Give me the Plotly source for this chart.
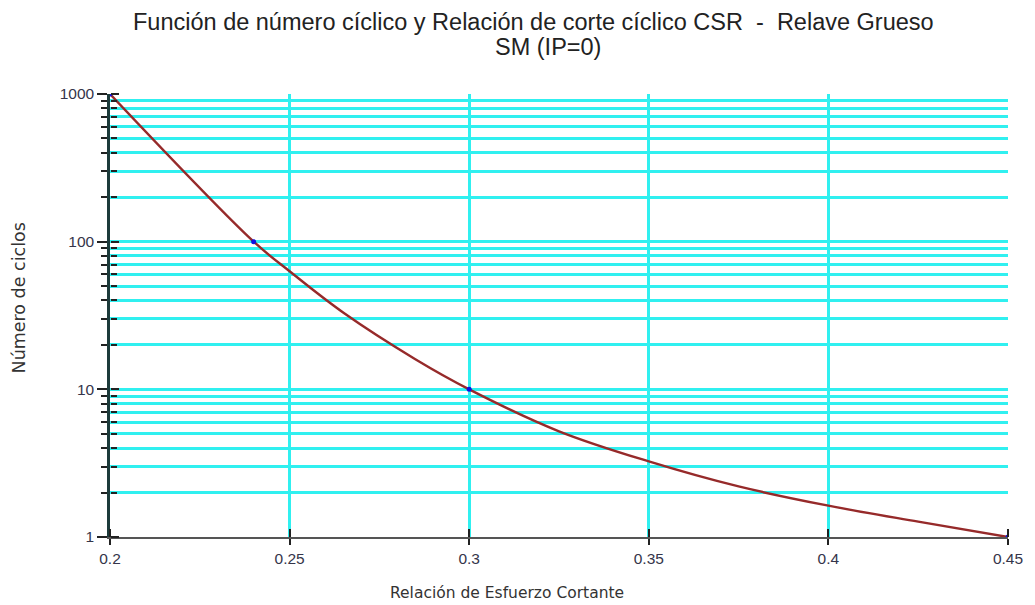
import plotly.graph_objects as go

# Cyclic stress ratio (CSR) vs number of cycles
csr = [0.2, 0.24, 0.25, 0.265, 0.285, 0.3, 0.325, 0.35, 0.375, 0.4, 0.425, 0.45]
ciclos = [1000, 100, 63, 33, 16, 10, 5.2, 3.25, 2.2, 1.63, 1.27, 1.0]

# Measured points shown as markers
csr_pts = [0.2, 0.24, 0.3, 0.45]
ciclos_pts = [1000, 100, 10, 1]

x_ticks = [0.2, 0.25, 0.3, 0.35, 0.4, 0.45]
x_tick_text = ["0.2", "0.25", "0.3", "0.35", "0.4", "0.45"]
y_ticks = [1, 10, 100, 1000]
y_tick_text = ["1", "10", "100", "1000"]

title_1 = "Función de número cíclico y Relación de corte cíclico CSR  -  Relave Grueso"
title_2 = "SM (IP=0)"
x_title = "Relación de Esfuerzo Cortante"
y_title = "Número de ciclos"

GRID = "#30f0f0"
FONT = "Liberation Sans, Arial, sans-serif"
TICK_FONT = dict(size=15.5, color="#35354a", family=FONT)
X_LABEL_FONT = dict(size=15.5, color="#333333", family="DejaVu Sans, sans-serif")
Y_LABEL_FONT = dict(size=17.5, color="#333333", family="DejaVu Sans, sans-serif")
TITLE_FONT = dict(size=23.5, color="#222222", family=FONT)

fig = go.Figure()
fig.add_trace(go.Scatter(
    x=csr, y=ciclos, mode="lines",
    line=dict(color="#962a2a", width=2.4, shape="spline", smoothing=1.0),
    hoverinfo="skip", showlegend=False,
))
fig.add_trace(go.Scatter(
    x=csr_pts, y=ciclos_pts, mode="markers",
    marker=dict(color="#1010e0", size=5),
    showlegend=False,
))
# invisible trace anchoring the overlay axes that carry the inward ticks
fig.add_trace(go.Scatter(
    x=csr_pts, y=ciclos_pts, mode="markers", xaxis="x2", yaxis="y2",
    marker=dict(opacity=0), hoverinfo="skip", showlegend=False,
))

fig.update_layout(
    width=1035, height=605,
    margin=dict(l=110, r=20, t=94, b=68),
    paper_bgcolor="white", plot_bgcolor="white",
    font=dict(family=FONT, color="#333340"),
    xaxis=dict(
        range=[0.2, 0.45], tickvals=x_ticks, ticktext=x_tick_text,
        showgrid=True, gridcolor=GRID, gridwidth=2.5,
        showline=True, linecolor="#555555", linewidth=2,
        ticks="outside", ticklen=6, tickcolor="#222", tickwidth=1.5,
        tickfont=TICK_FONT,
        zeroline=False,
    ),
    yaxis=dict(
        type="log", range=[0, 3], tickvals=y_ticks, ticktext=y_tick_text,
        showgrid=True, gridcolor=GRID, gridwidth=2.5,
        showline=True, linecolor="#1d3b3b", linewidth=2.5,
        ticks="outside", ticklen=10, tickcolor="#222", tickwidth=1.5,
        tickfont=TICK_FONT,
        minor=dict(dtick="D1", showgrid=True, gridcolor=GRID, gridwidth=2.5,
                   ticks="outside", ticklen=6, tickcolor="#222", tickwidth=2),
        zeroline=False,
    ),
    xaxis2=dict(
        overlaying="x", range=[0.2, 0.45], tickvals=x_ticks,
        showticklabels=False, showgrid=False, zeroline=False, showline=False,
        ticks="outside", ticklen=8, tickcolor="#222", tickwidth=1.5,
        side="top", anchor="free", position=0,
    ),
    yaxis2=dict(
        overlaying="y", type="log", range=[0, 3], tickvals=y_ticks,
        showticklabels=False, showgrid=False, zeroline=False, showline=False,
        ticks="outside", ticklen=8, tickcolor="#222", tickwidth=1.5,
        side="right", anchor="free", position=0,
        minor=dict(dtick="D1", showgrid=False, ticks="outside", ticklen=6,
                   tickcolor="#222", tickwidth=2),
    ),
    annotations=[
        dict(text=title_1, xref="paper", yref="paper", x=0.472, y=1.1625,
             xanchor="center", yanchor="middle", showarrow=False, font=TITLE_FONT),
        dict(text=title_2, xref="paper", yref="paper", x=0.488, y=1.106,
             xanchor="center", yanchor="middle", showarrow=False, font=TITLE_FONT),
        dict(text=x_title, xref="paper", yref="paper", x=0.442, y=-0.1264,
             xanchor="center", yanchor="middle", showarrow=False, font=X_LABEL_FONT),
        dict(text=y_title, xref="paper", yref="paper", x=-0.1017, y=0.54,
             xanchor="center", yanchor="middle", textangle=-90, showarrow=False,
             font=Y_LABEL_FONT),
    ],
)

fig.write_html("out.html")
